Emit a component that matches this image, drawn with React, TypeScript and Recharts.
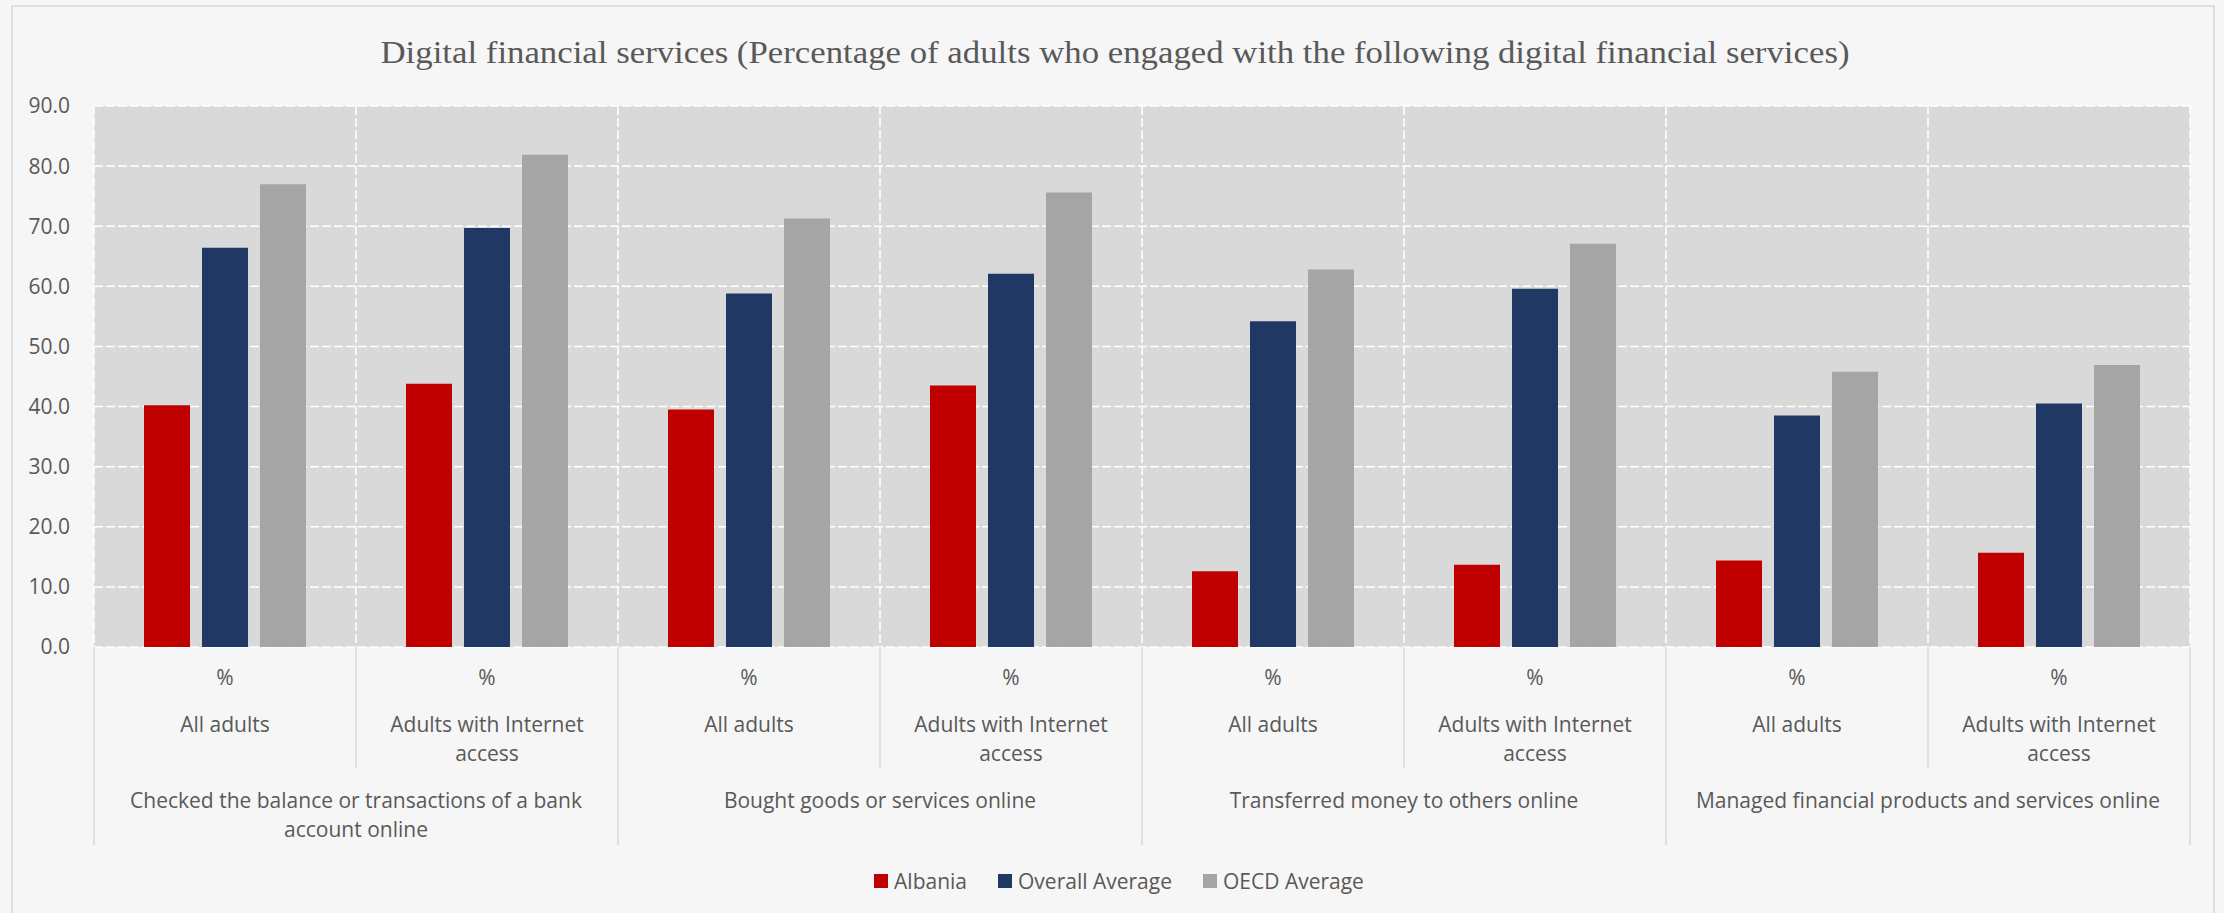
import { BarChart, Bar, XAxis, YAxis, CartesianGrid, Legend } from 'recharts';

const title = 'Digital financial services (Percentage of adults who engaged with the following digital financial services)';
const groups = [
  'Checked the balance or transactions of a bank account online',
  'Bought goods or services online',
  'Transferred money to others online',
  'Managed financial products and services online',
];
const subgroups = ['All adults', 'Adults with Internet access'];
const unitLabel = '%';
const seriesNames = ['Albania', 'Overall Average', 'OECD Average'];

const albania = [40.2, 43.8, 39.5, 43.5, 12.6, 13.7, 14.4, 15.7];
const overallAverage = [66.4, 69.7, 58.8, 62.1, 54.2, 59.6, 38.5, 40.5];
const oecdAverage = [77.0, 81.9, 71.3, 75.6, 62.8, 67.1, 45.8, 46.9];
const yTicks = [0, 10, 20, 30, 40, 50, 60, 70, 80, 90];

const rows = albania.map((v, i) => ({
  id: i,
  group: groups[Math.floor(i / 2)],
  sub: subgroups[i % 2],
  albania: v,
  overall: overallAverage[i],
  oecd: oecdAverage[i],
}));

const CHART_W = 2224;
const CHART_H = 913;
const MARGIN = { top: 106, right: 34, left: 0, bottom: 17 };
const Y_AXIS_W = 94;
const PLOT_W = CHART_W - MARGIN.left - MARGIN.right - Y_AXIS_W;
const FONT = "'Open Sans', sans-serif";
const TEXT = '#595959';
const SEP = '#d9d9d9';

// simple word wrap by character count
const wrap = (s: string, max: number) => {
  const out: string[] = [];
  let line = '';
  s.split(' ').forEach((w) => {
    const next = line ? line + ' ' + w : w;
    if (next.length > max && line) {
      out.push(line);
      line = w;
    } else {
      line = next;
    }
  });
  if (line) out.push(line);
  return out;
};

const CategoryTick = (props: any) => {
  const { x, y, payload } = props;
  const i = Number(payload.value);
  const d = rows[i];
  const cw = PLOT_W / rows.length;
  const subLines = wrap(d.sub, 20);
  const groupLines = wrap(d.group, 46);
  const txt = { fontFamily: FONT, fontSize: 21, fill: TEXT, textAnchor: 'middle' as const };
  return (
    <g>
      <text x={x} y={y + 38} {...txt}>{unitLabel}</text>
      {subLines.map((l, k) => (
        <text key={k} x={x} y={y + 85 + k * 29} {...txt}>{l}</text>
      ))}
      {i === 0 && <line x1={x - cw / 2} x2={x - cw / 2} y1={y} y2={y + 198} stroke={SEP} strokeWidth={1.5} />}
      {i % 2 === 0 ? (
        <line x1={x + cw / 2} x2={x + cw / 2} y1={y} y2={y + 121} stroke={SEP} strokeWidth={1.5} />
      ) : (
        <line x1={x + cw / 2} x2={x + cw / 2} y1={y} y2={y + 198} stroke={SEP} strokeWidth={1.5} />
      )}
      {i % 2 === 1 &&
        groupLines.map((l, k) => (
          <text key={'g' + k} x={x - cw / 2} y={y + 161 + k * 29} {...txt}>{l}</text>
        ))}
    </g>
  );
};

const renderLegend = (props: any) => {
  const items = [...(props.payload || [])].sort(
    (a: any, b: any) => seriesNames.indexOf(a.value) - seriesNames.indexOf(b.value)
  );
  return (
    <div
      style={{
        display: 'flex',
        justifyContent: 'center',
        alignItems: 'center',
        gap: 31,
        height: 30,
        paddingLeft: 14,
        fontFamily: FONT,
        fontSize: 21,
        color: TEXT,
      }}
    >
      {items.map((p: any) => (
        <span key={p.value} style={{ display: 'flex', alignItems: 'center' }}>
          <span style={{ width: 14, height: 14, background: p.color, marginRight: 6, display: 'inline-block' }} />
          {p.value}
        </span>
      ))}
    </div>
  );
};

const verticalLines = (p: any) => {
  const left = p.offset?.left ?? Y_AXIS_W;
  const width = p.offset?.width ?? PLOT_W;
  return Array.from({ length: rows.length + 1 }, (_, k) => left + (k * width) / rows.length);
};

export const App = () => (
  <div style={{ position: 'absolute', left: 0, top: 0, width: CHART_W, height: CHART_H, background: '#f6f6f6', overflow: 'hidden' }}>
    <div style={{ position: 'absolute', left: 11, top: 5, width: 2204, height: 940, border: '2px solid #dedede', boxSizing: 'border-box' }} />
    <svg style={{ position: 'absolute', left: 0, top: 0 }} width={CHART_W} height={100}>
      <text
        x={1115}
        y={63}
        textAnchor="middle"
        textLength={1469}
        lengthAdjust="spacingAndGlyphs"
        fontFamily="'Liberation Serif', serif"
        fontSize={32}
        fill={TEXT}
      >
        {title}
      </text>
    </svg>
    <div style={{ position: 'absolute', left: 0, top: 0 }}>
      <BarChart width={CHART_W} height={CHART_H} data={rows} margin={MARGIN} barSize={46} barGap={12}>
        <CartesianGrid
          fill="#d9d9d9"
          stroke="#ffffff"
          strokeWidth={1.5}
          strokeDasharray="9 3"
          verticalCoordinatesGenerator={verticalLines}
        />
        <XAxis
          dataKey="id"
          type="category"
          height={219}
          interval={0}
          axisLine={false}
          tickLine={false}
          tickSize={0}
          tickMargin={0}
          tick={<CategoryTick />}
        />
        <YAxis
          width={Y_AXIS_W}
          domain={[0, 90]}
          ticks={yTicks}
          interval={0}
          axisLine={false}
          tickLine={false}
          tickSize={0}
          tickMargin={24}
          tickFormatter={(v: number) => v.toFixed(1)}
          tick={{ fontFamily: FONT, fontSize: 21, fill: TEXT }}
        />
        <Legend verticalAlign="bottom" content={renderLegend} wrapperStyle={{ left: 0, width: CHART_W }} />
        <Bar dataKey="albania" name="Albania" fill="#c00000" isAnimationActive={false} />
        <Bar dataKey="overall" name="Overall Average" fill="#1f3864" isAnimationActive={false} />
        <Bar dataKey="oecd" name="OECD Average" fill="#a5a5a5" isAnimationActive={false} />
      </BarChart>
    </div>
  </div>
);

export default App;
